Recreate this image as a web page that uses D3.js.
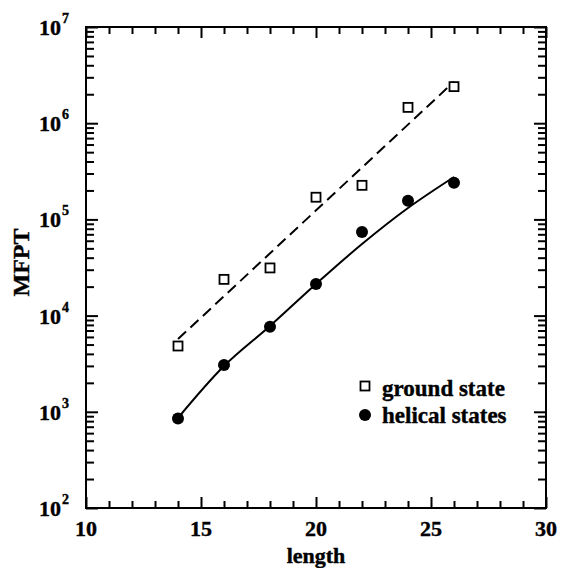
<!DOCTYPE html>
<html>
<head>
<meta charset="utf-8">
<script src="https://cdn.jsdelivr.net/npm/d3@7"></script>
<style>
  body { margin: 0; background: #fff; }
  text { font-family: "Liberation Serif", "Times New Roman", serif; font-weight: bold; fill: #000; stroke: #000; stroke-width: 0.4px; }
</style>
</head>
<body>
<div id="chart"></div>
<script>
// data
const lengths = [14, 16, 18, 20, 22, 24, 26]
const groundState = [4830, 23800, 31300, 170000, 226000, 1460000, 2400000]
const helicalStates = [850, 3060, 7670, 21300, 74000, 156000, 241000]

// fit lines
const groundFitX = [14, 26]
const groundFitY = [5700, 2700000]
const helicalFitY = [862, 2990, 7800, 21300, 55500, 131400, 276000]

const xTicks = [10, 15, 20, 25, 30]
const yExponents = [2, 3, 4, 5, 6, 7]
const legendLabels = ["ground state", "helical states"]

const width = 561, height = 568
const margin = ({ top: 27, right: 15, bottom: 60, left: 86 })
const innerW = width - margin.left - margin.right,
    innerH = height - margin.top - margin.bottom

let svg = d3.select("#chart").append("svg")
    .attr("width", width)
    .attr("height", height)
    .append("g")
    .attr("transform", "translate(" + margin.left + "," + margin.top + ")")

let xScale = d3.scaleLinear().domain([10, 30]).range([0, innerW])
let yScale = d3.scaleLog().domain([1e2, 1e7]).range([innerH, 0])

const xMinor = d3.range(10, 31, 1).filter(d => d % 5 !== 0)
const yMajor = yExponents.map(e => Math.pow(10, e))
const yMinor = []
yExponents.slice(0, -1).forEach(e => {
    for (let m = 2; m <= 9; m++) yMinor.push(m * Math.pow(10, e))
})

function tickAxis(axis, tx, ty) {
    const g = svg.append("g")
        .attr("transform", `translate(${tx},${ty})`)
        .call(axis)
    g.select(".domain").remove()
    g.selectAll("text").remove()
    g.selectAll("line").attr("stroke", "#000").attr("stroke-width", 2)
}

// ticks on all four sides, pointing inward
tickAxis(d3.axisBottom(xScale).tickValues(xTicks).tickSize(-11), 0, innerH)
tickAxis(d3.axisBottom(xScale).tickValues(xMinor).tickSize(-7), 0, innerH)
tickAxis(d3.axisTop(xScale).tickValues(xTicks).tickSize(-11), 0, 0)
tickAxis(d3.axisTop(xScale).tickValues(xMinor).tickSize(-7), 0, 0)
tickAxis(d3.axisLeft(yScale).tickValues(yMajor).tickSize(-12), 0, 0)
tickAxis(d3.axisLeft(yScale).tickValues(yMinor).tickSize(-8), 0, 0)
tickAxis(d3.axisRight(yScale).tickValues(yMajor).tickSize(-12), innerW, 0)
tickAxis(d3.axisRight(yScale).tickValues(yMinor).tickSize(-8), innerW, 0)

svg.append("rect")
    .attr("width", innerW)
    .attr("height", innerH)
    .attr("fill", "none")
    .attr("stroke", "#000")
    .attr("stroke-width", 2)

// x tick labels
svg.selectAll(".xlab")
    .data(xTicks)
    .enter().append("text")
    .attr("class", "xlab")
    .attr("x", d => xScale(d))
    .attr("y", innerH + 28)
    .attr("text-anchor", "middle")
    .style("font-size", "22px")
    .text(d => d)

// y tick labels 10^n
const ylab = svg.selectAll(".ylab")
    .data(yExponents)
    .enter().append("g")
    .attr("class", "ylab")
    .attr("transform", d => `translate(-25,${yScale(Math.pow(10, d))})`)
ylab.append("text")
    .attr("y", 8)
    .attr("text-anchor", "end")
    .style("font-size", "22px")
    .text("10")
ylab.append("text")
    .attr("x", 1)
    .attr("y", -4)
    .style("font-size", "14px")
    .text(d => d)

// axis titles
svg.append("text")
    .attr("x", innerW / 2)
    .attr("y", innerH + 55)
    .attr("text-anchor", "middle")
    .style("font-size", "22px")
    .text("length")

svg.append("text")
    .attr("transform", `translate(-57,${innerH / 2 - 5}) rotate(-90)`)
    .attr("text-anchor", "middle")
    .style("font-size", "24px")
    .text("MFPT")

// fit lines
const line = d3.line()
    .x(d => xScale(d[0]))
    .y(d => yScale(d[1]))

svg.append("path")
    .datum(groundFitX.map((x, i) => [x, groundFitY[i]]))
    .attr("d", line)
    .attr("fill", "none")
    .attr("stroke", "#000")
    .attr("stroke-width", 2)
    .attr("stroke-dasharray", "11,6")

svg.append("path")
    .datum(lengths.map((x, i) => [x, helicalFitY[i]]))
    .attr("d", line.curve(d3.curveCatmullRom))
    .attr("fill", "none")
    .attr("stroke", "#000")
    .attr("stroke-width", 2)

// markers
svg.selectAll(".sq")
    .data(lengths.map((x, i) => [x, groundState[i]]))
    .enter().append("rect")
    .attr("class", "sq")
    .attr("x", d => xScale(d[0]) - 4.5)
    .attr("y", d => yScale(d[1]) - 4.5)
    .attr("width", 9)
    .attr("height", 9)
    .attr("fill", "#fff")
    .attr("stroke", "#000")
    .attr("stroke-width", 1.8)

svg.selectAll(".dot")
    .data(lengths.map((x, i) => [x, helicalStates[i]]))
    .enter().append("circle")
    .attr("class", "dot")
    .attr("cx", d => xScale(d[0]))
    .attr("cy", d => yScale(d[1]))
    .attr("r", 6)
    .attr("fill", "#000")

// legend
const legend = svg.append("g")
    .attr("transform", `translate(${365 - margin.left},${386 - margin.top})`)
legend.append("rect")
    .attr("x", -4.5).attr("y", -4.5)
    .attr("width", 9).attr("height", 9)
    .attr("fill", "#fff").attr("stroke", "#000").attr("stroke-width", 1.8)
legend.append("circle")
    .attr("cy", 29)
    .attr("r", 6)
    .attr("fill", "#000")
legend.selectAll(".legtext")
    .data(legendLabels)
    .enter().append("text")
    .attr("class", "legtext")
    .attr("x", 17)
    .attr("y", (d, i) => 10 + i * 27)
    .style("font-size", "23px")
    .text(d => d)
</script>
</body>
</html>
